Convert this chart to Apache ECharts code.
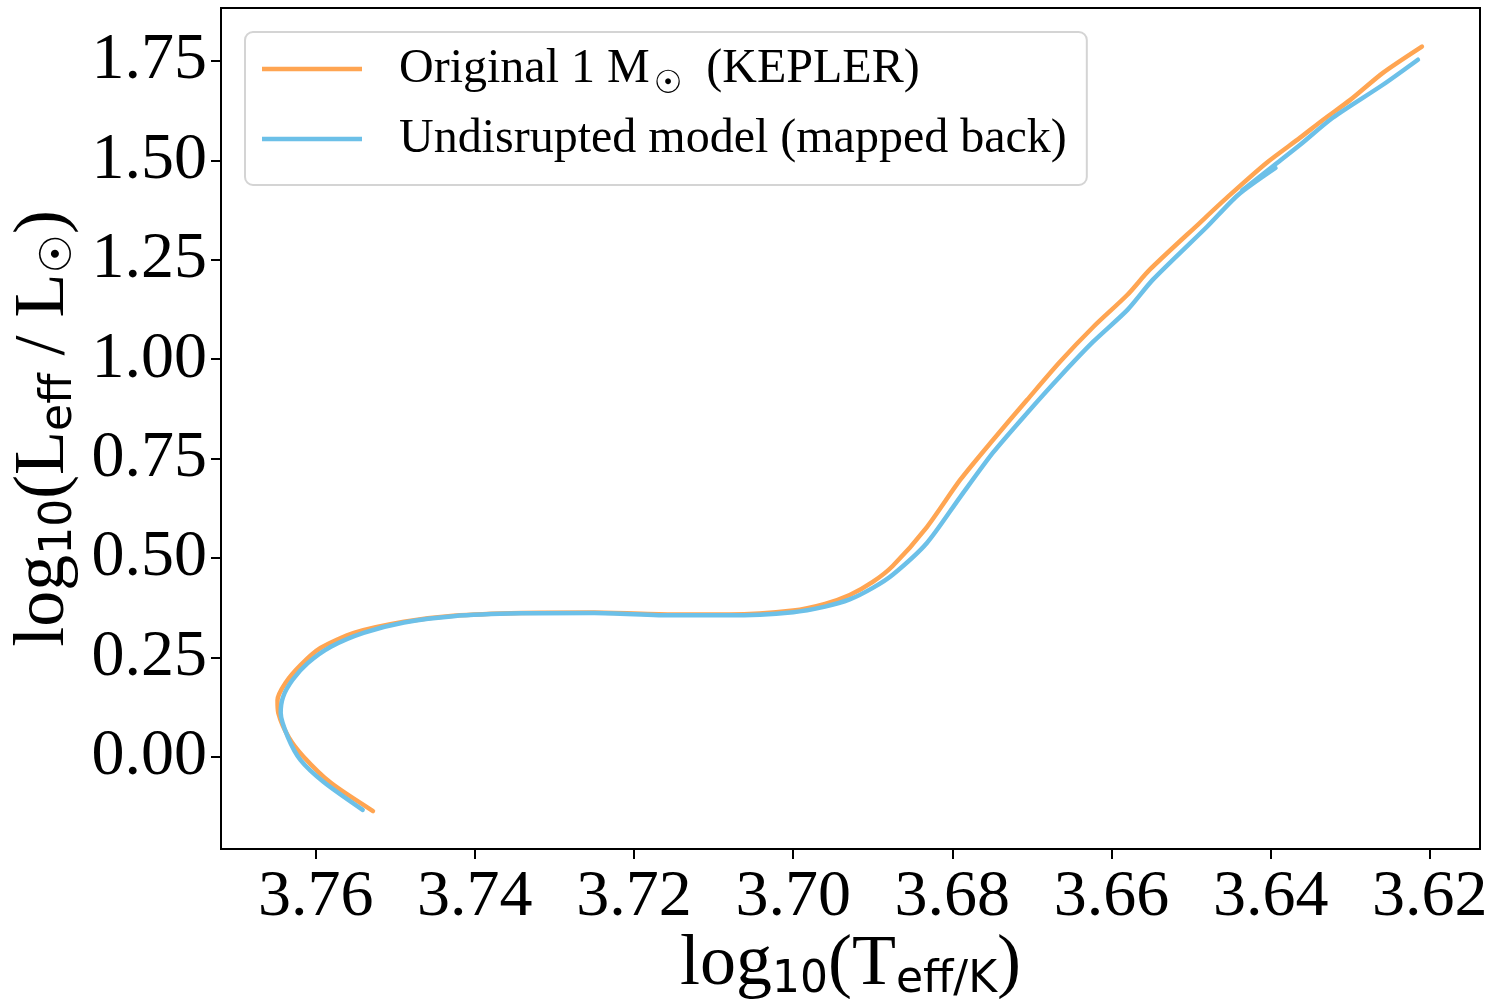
<!DOCTYPE html>
<html>
<head>
<meta charset="utf-8">
<script src="https://cdn.jsdelivr.net/npm/echarts@6/dist/echarts.min.js"></script>
<style>html,body{margin:0;padding:0;background:#fff;}#c{width:1493px;height:999px;}</style>
</head>
<body>
<div id="c"></div>
<script>
// Original 1 Msun (KEPLER) track
const origX = [3.7528, 3.7581, 3.7615, 3.7634, 3.7647, 3.7648, 3.7638, 3.7619, 3.7594, 3.7552, 3.7489, 3.7427, 3.7342, 3.7250, 3.7150, 3.7080, 3.7000, 3.6960, 3.6929, 3.6900, 3.6875, 3.6832, 3.6790, 3.6749, 3.6706, 3.6665, 3.6623, 3.6580, 3.6552, 3.6489, 3.6454, 3.6405, 3.6363, 3.6334, 3.6300, 3.6259, 3.6210];
const origY = [-0.136, -0.065, 0.000, 0.050, 0.111, 0.143, 0.186, 0.231, 0.274, 0.312, 0.340, 0.355, 0.362, 0.363, 0.358, 0.358, 0.368, 0.385, 0.407, 0.440, 0.480, 0.578, 0.697, 0.797, 0.898, 0.993, 1.081, 1.162, 1.225, 1.343, 1.408, 1.494, 1.557, 1.602, 1.652, 1.720, 1.786];
// Undisrupted model (mapped back)
const mapX = [3.7541, 3.7590, 3.7619, 3.7635, 3.7644, 3.7641, 3.7629, 3.7610, 3.7581, 3.7540, 3.7489, 3.7427, 3.7342, 3.7250, 3.7150, 3.7080, 3.7000, 3.6960, 3.6929, 3.6900, 3.6875, 3.6832, 3.6790, 3.6749, 3.6706, 3.6665, 3.6623, 3.6580, 3.6548, 3.6480, 3.6441, 3.6394, 3.6436, 3.6396, 3.6363, 3.6322, 3.6259, 3.6215];
const mapY = [-0.133, -0.063, -0.008, 0.050, 0.111, 0.151, 0.194, 0.236, 0.277, 0.312, 0.338, 0.354, 0.361, 0.362, 0.356, 0.356, 0.364, 0.378, 0.396, 0.425, 0.458, 0.538, 0.654, 0.765, 0.865, 0.956, 1.044, 1.124, 1.200, 1.333, 1.413, 1.481, 1.424, 1.487, 1.539, 1.607, 1.690, 1.753];
const xTicks = [3.76, 3.74, 3.72, 3.70, 3.68, 3.66, 3.64, 3.62];
const yTicks = [0.00, 0.25, 0.50, 0.75, 1.00, 1.25, 1.50, 1.75];
const seriesNames = ['Original 1 M\u2609 (KEPLER)', 'Undisrupted model (mapped back)'];

const zip = (a, b) => a.map((v, i) => [v, b[i]]);
const SERIF = '"Liberation Serif","Times New Roman",serif';
const SANS = '"DejaVu Sans",sans-serif';

const chart = echarts.init(document.getElementById('c'), null, {renderer: 'canvas'});
const nameRich = {
  m: {fontFamily: SERIF, fontSize: 72, color: '#000', lineHeight: 80, verticalAlign: 'middle'},
  s: {fontFamily: SANS, fontSize: 44, color: '#000', lineHeight: 80, verticalAlign: 'bottom', padding: [0, 0, 2, 0]}
};
chart.setOption({
  animation: false,
  backgroundColor: '#fff',
  grid: {left: 221, right: 13, top: 8, bottom: 150, show: true, borderColor: '#000', borderWidth: 2,
    containLabel: false, outerBoundsMode: 'none'},
  legend: {
    left: 245, top: 32, orient: 'vertical',
    icon: 'rect', itemWidth: 100, itemHeight: 4.5, itemGap: 14,
    backgroundColor: '#fff', borderColor: '#d4d4d4', borderWidth: 2, borderRadius: 8,
    padding: [13, 20, 22, 17],
    data: seriesNames,
    formatter: function (n) {
      if (n.indexOf('KEPLER') >= 0) return '{a|Original 1 M}{s|\u2609}{a|  (KEPLER)}';
      return '{a|' + n + '}';
    },
    textStyle: {
      padding: [0, 0, 0, 32],
      rich: {
        a: {fontFamily: SERIF, fontSize: 48, color: '#000', lineHeight: 48, verticalAlign: 'middle'},
        s: {fontFamily: SANS, fontSize: 32, color: '#000', lineHeight: 48, verticalAlign: 'bottom', padding: [0, 0, -8, 4]}
      }
    }
  },
  xAxis: {
    type: 'value', inverse: true, min: 3.6137, max: 3.7719,
    name: '{m|log}{s|10}{m|(T}{s|eff/K}{m|)}',
    nameLocation: 'middle', nameGap: 76, nameMoveOverlap: false,
    nameTextStyle: {rich: nameRich},
    axisLine: {show: true, onZero: false, lineStyle: {color: '#000', width: 2}},
    axisTick: {show: true, length: 10, lineStyle: {color: '#000', width: 2}, customValues: xTicks},
    axisLabel: {show: true, margin: 16, fontFamily: SERIF, fontSize: 66, color: '#000', customValues: xTicks,
      formatter: v => v.toFixed(2)},
    splitLine: {show: false}
  },
  yAxis: {
    type: 'value', min: -0.2314, max: 1.883,
    name: '{m|log}{s|10}{m|(L}{s|eff}{m| / L}{s|\u2609}{m|)}',
    nameLocation: 'middle', nameGap: 137, nameRotate: 90, nameMoveOverlap: false,
    nameTextStyle: {rich: nameRich},
    axisLine: {show: true, onZero: false, lineStyle: {color: '#000', width: 2}},
    axisTick: {show: true, length: 10, lineStyle: {color: '#000', width: 2}, customValues: yTicks},
    axisLabel: {show: true, margin: 14, fontFamily: SERIF, fontSize: 66, color: '#000', customValues: yTicks,
      formatter: v => v.toFixed(2)},
    splitLine: {show: false}
  },
  series: [
    {name: seriesNames[0], type: 'line', data: zip(origX, origY), symbol: 'none', smooth: 0.25,
      color: '#FFA552', lineStyle: {color: '#FFA552', width: 4.5, cap: 'round', join: 'round'}},
    {name: seriesNames[1], type: 'line', data: zip(mapX, mapY), symbol: 'none', smooth: 0.25,
      color: '#6CC0E8', lineStyle: {color: '#6CC0E8', width: 4.5, cap: 'round', join: 'round'}}
  ]
});
</script>
</body>
</html>
